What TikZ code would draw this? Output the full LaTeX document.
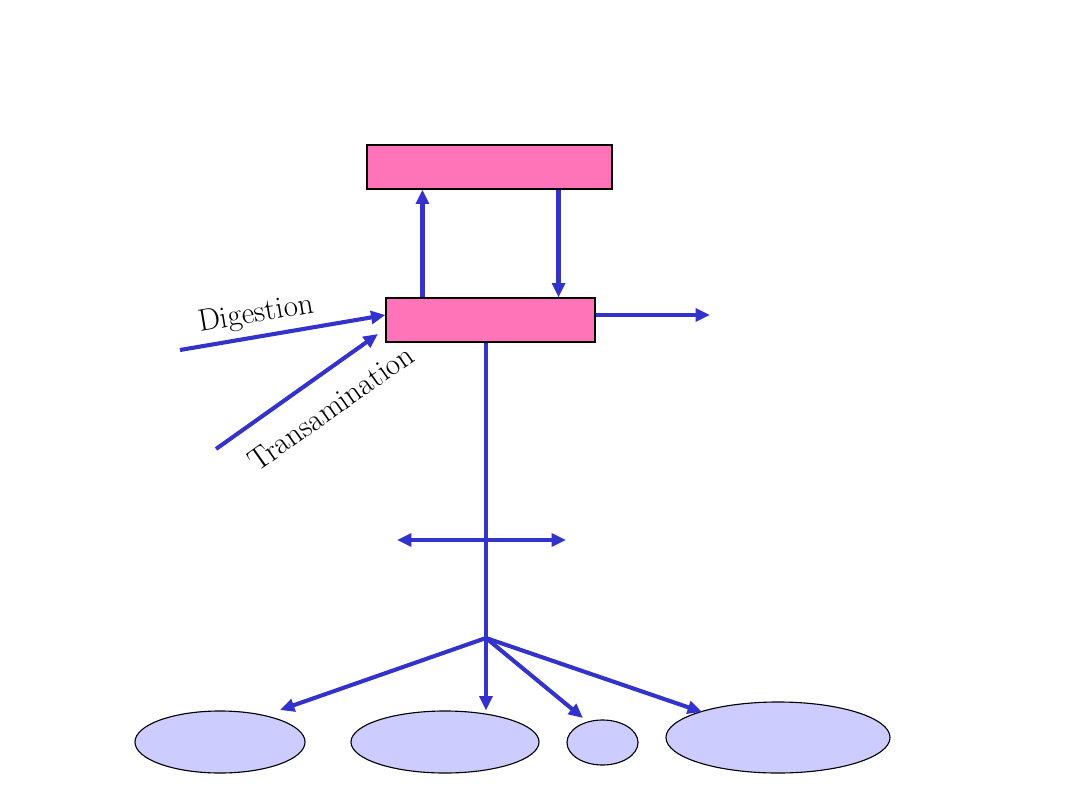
\documentclass[tikz,border=0pt]{standalone}
\usepackage{xcolor}
\usepackage{tikz}
\usetikzlibrary{arrows.meta,shapes.geometric}

\definecolor{arrowblue}{HTML}{3333CC}
\definecolor{boxpink}{HTML}{FF73B9}
\definecolor{ovalblue}{HTML}{CCCCFF}

\begin{document}
\begin{tikzpicture}[x=0.025cm, y=-0.025cm,
  flow/.style = {draw=arrowblue, line width=2.9pt, -{Triangle[length=0.36cm,width=0.32cm]}},
  pinkbox/.style = {draw, thick, fill=boxpink, minimum height=1.1cm, inner sep=0pt},
  oval/.style = {ellipse, draw, thick, fill=ovalblue, inner sep=0pt},
  lbl/.style = {font=\fontsize{22}{26}\selectfont}]
  \useasboundingbox (0,0) rectangle (1080,810);

  \node[pinkbox, minimum width=6.125cm] (topbox) at (489.5,167) {};
  \node[pinkbox, minimum width=5.225cm] (poolbox) at (490.5,320) {};

  \node[oval, minimum width=4.25cm, minimum height=1.55cm] (oval1) at (220,742) {};
  \node[oval, minimum width=4.7cm, minimum height=1.55cm] (oval2) at (445,742) {};
  \node[oval, minimum width=1.775cm, minimum height=1.125cm] (oval3) at (602.5,742.5) {};
  \node[oval, minimum width=5.6cm, minimum height=1.775cm] (oval4) at (778,737.5) {};

  \coordinate (digin) at (180,350);
  \coordinate (transin) at (216,449);
  \coordinate (transend) at (378,334);
  \coordinate (out) at (710,315);
  \coordinate (hub) at (486,638);
  \coordinate (leftend) at (397,540);
  \coordinate (rightend) at (566,540);

  \draw[flow] ([xshift=-1.7cm]poolbox.north) -- ([xshift=-1.7cm]topbox.south -| poolbox.north);
  \draw[flow] ([xshift=1.7cm]topbox.south -| poolbox.north) -- ([xshift=1.7cm]poolbox.north);
  \draw[flow] (poolbox.east |- out) -- (out);

  \draw[flow] (digin) -- (poolbox.west |- out) node[lbl, pos=0.39, above=1pt, sloped] {Digestion};
  \draw[flow] (transin) -- (transend) node[lbl, pos=0.59, below=11pt, sloped] {Transamination};

  \draw[draw=arrowblue, line width=2.9pt] (poolbox.south -| hub) -- (hub);
  \draw[flow, {Triangle[length=0.36cm,width=0.32cm]}-{Triangle[length=0.36cm,width=0.32cm]}] (leftend) -- (rightend);

  \draw[flow] (hub) -- (280,710);
  \draw[flow] (hub) -- (hub |- oval2.north);
  \draw[flow] (hub) -- (583,718);
  \draw[flow] (hub) -- (702,712);
\end{tikzpicture}
\end{document}
